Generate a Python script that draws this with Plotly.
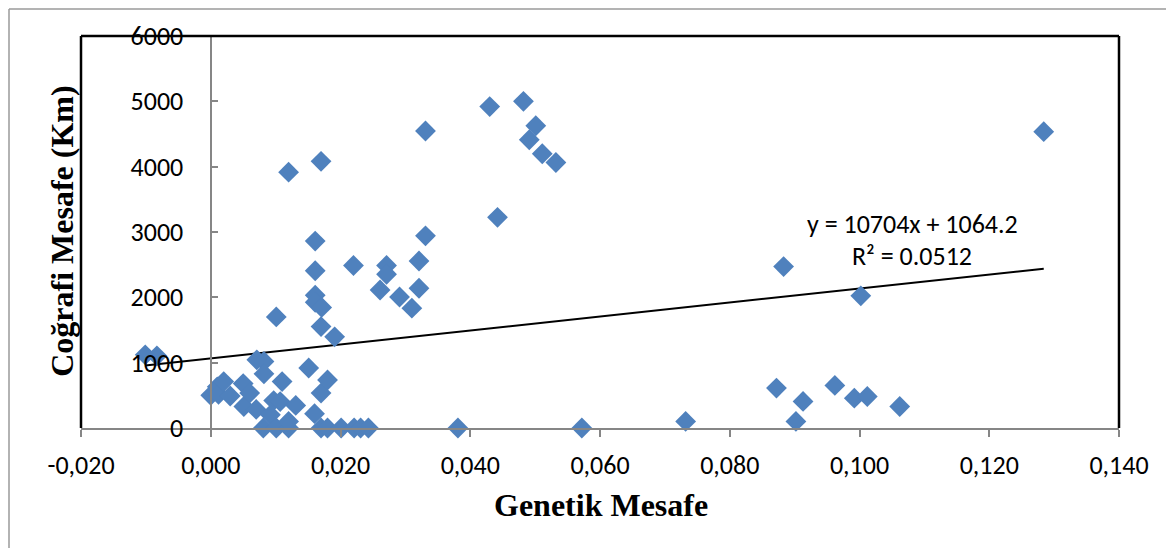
import plotly.graph_objects as go

# Data: genetic distance (x) vs geographic distance in km (y)
genetik = [-0.0101, -0.0083,
           0.0000, 0.0010, 0.0012, 0.0020, 0.0030, 0.0050, 0.0051, 0.0060, 0.0070,
           0.0071, 0.0082, 0.0082, 0.0081,
           0.0101, 0.0110, 0.0097, 0.0107, 0.0092, 0.0101, 0.0120, 0.0120, 0.0131,
           0.0120, 0.0170, 0.0151, 0.0161, 0.0161, 0.0161, 0.0161, 0.0171, 0.0170, 0.0191,
           0.0160, 0.0170, 0.0180, 0.0170, 0.0180, 0.0201, 0.0221, 0.0231, 0.0243,
           0.0220, 0.0261, 0.0271, 0.0271, 0.0291, 0.0310, 0.0321, 0.0321, 0.0331, 0.0331, 0.0381,
           0.0430, 0.0442, 0.0482, 0.0491, 0.0501, 0.0511, 0.0532, 0.0572,
           0.0732, 0.0872, 0.0883, 0.0902, 0.0913, 0.0962, 0.0992, 0.1012, 0.1002, 0.1062, 0.1284]
cografi = [1120, 1105,
           500, 630, 515, 711, 490, 680, 329, 534, 285,
           1043, 1018, 829, 0,
           1700, 711, 420, 405, 202, 0, 0, 100, 345,
           3915, 4081, 918, 2861, 2407, 2032, 1925, 1845, 1553, 1395,
           220, 535, 735, 0, 0, 0, 0, 0, 0,
           2487, 2112, 2487, 2353, 2005, 1834, 2556, 2139, 2941, 4546, 0,
           4920, 3225, 5000, 4412, 4626, 4198, 4064, 0,
           100, 611, 2471, 100, 406, 651, 457, 482, 2023, 329, 4536]

# Linear trendline as displayed on the chart
slope = 10704
intercept = 1064.2
eq_text = "y = 10704x + 1064.2"
r2_text = "R² = 0.0512"

x_ticks = [-0.02, 0.0, 0.02, 0.04, 0.06, 0.08, 0.10, 0.12, 0.14]
x_ticktext = ["-0,020", "0,000", "0,020", "0,040", "0,060", "0,080", "0,100", "0,120", "0,140"]
y_ticks = [0, 1000, 2000, 3000, 4000, 5000, 6000]

x_title = "Genetik Mesafe"
y_title = "Coğrafi Mesafe (Km)"

trend_x = [min(genetik), max(genetik)]
trend_y = [slope * v + intercept for v in trend_x]

# page offset of the figure (default body margin)
OFF = 8
W, H = 1174 - OFF, 548 - OFF
# plot area in page pixels: left 81, right 1119, top 36.5, bottom 428.5
L, T = 81 - OFF, 36 - OFF
R = W - (1119 - OFF)
B = H - (428.5 - OFF)
PW, PH = W - L - R, H - T - B


def px(xpage):
    return (xpage - OFF - L) / PW


def py(ypage):
    return (H - B - (ypage - OFF)) / PH


tick_font = dict(family="Carlito, Calibri, Lato, 'Liberation Sans', sans-serif", size=26, color="black")
title_font = dict(family="'Liberation Serif', 'Times New Roman', serif", size=32, color="black")

fig = go.Figure()
fig.add_trace(go.Scatter(x=trend_x, y=trend_y, mode="lines",
                         line=dict(color="black", width=2), showlegend=False,
                         hoverinfo="skip", cliponaxis=False))
fig.add_trace(go.Scatter(x=genetik, y=cografi, mode="markers",
                         marker=dict(symbol="diamond", size=16, color="#4F81BD",
                                     line=dict(width=0)),
                         showlegend=False, cliponaxis=False))

fig.update_layout(
    width=W, height=H,
    margin=dict(l=L, r=R, t=T, b=B, pad=0),
    paper_bgcolor="white", plot_bgcolor="white",
    xaxis=dict(range=[-0.02, 0.14], tickvals=x_ticks, ticktext=x_ticktext,
               showgrid=False, zeroline=False, showline=True, linecolor="#868686",
               linewidth=2, ticks="outside", ticklen=7, tickwidth=1.5, tickcolor="#868686",
               tickfont=tick_font, ticklabelstandoff=6),
    yaxis=dict(range=[0, 6000], tickvals=y_ticks, showgrid=False, zeroline=False,
               showline=True, linecolor="#868686", linewidth=2,
               anchor="free", position=px(210.5),
               ticks="inside", ticklen=6, tickwidth=1.5, tickcolor="#868686",
               tickfont=tick_font, ticklabelstandoff=21),
    shapes=[
        # plot area border (left, top, right)
        dict(type="line", xref="paper", yref="paper", x0=0, x1=0, y0=0, y1=1,
             line=dict(color="black", width=2.5)),
        dict(type="line", xref="paper", yref="paper", x0=0, x1=1, y0=1, y1=1,
             line=dict(color="black", width=2.5)),
        dict(type="line", xref="paper", yref="paper", x0=1, x1=1, y0=0, y1=1,
             line=dict(color="black", width=2.5)),
        # outer chart border
        dict(type="line", xref="paper", yref="paper", x0=px(9), x1=px(9),
             y0=py(560), y1=py(9), line=dict(color="#9a9a9a", width=1.5)),
        dict(type="line", xref="paper", yref="paper", x0=px(9), x1=px(1171),
             y0=py(9), y1=py(9), line=dict(color="#9a9a9a", width=1.5)),
        dict(type="line", xref="paper", yref="paper", x0=px(1171), x1=px(1171),
             y0=py(560), y1=py(9), line=dict(color="#9a9a9a", width=1.5)),
    ],
    annotations=[
        dict(text=eq_text, xref="paper", yref="paper", x=px(912), y=py(224),
             xanchor="center", yanchor="middle", showarrow=False,
             font=dict(family=tick_font["family"], size=26, color="black")),
        dict(text=r2_text, xref="paper", yref="paper", x=px(912), y=py(256),
             xanchor="center", yanchor="middle", showarrow=False,
             font=dict(family=tick_font["family"], size=26, color="black")),
        dict(text="<b>" + x_title + "</b>", xref="paper", yref="paper", x=px(601), y=py(506),
             xanchor="center", yanchor="middle", showarrow=False, font=title_font),
        dict(text="<b>" + y_title + "</b>", xref="paper", yref="paper", x=px(62), y=py(232),
             xanchor="center", yanchor="middle", showarrow=False, textangle=-90, font=title_font),
    ],
)

fig.write_html("out.html")
